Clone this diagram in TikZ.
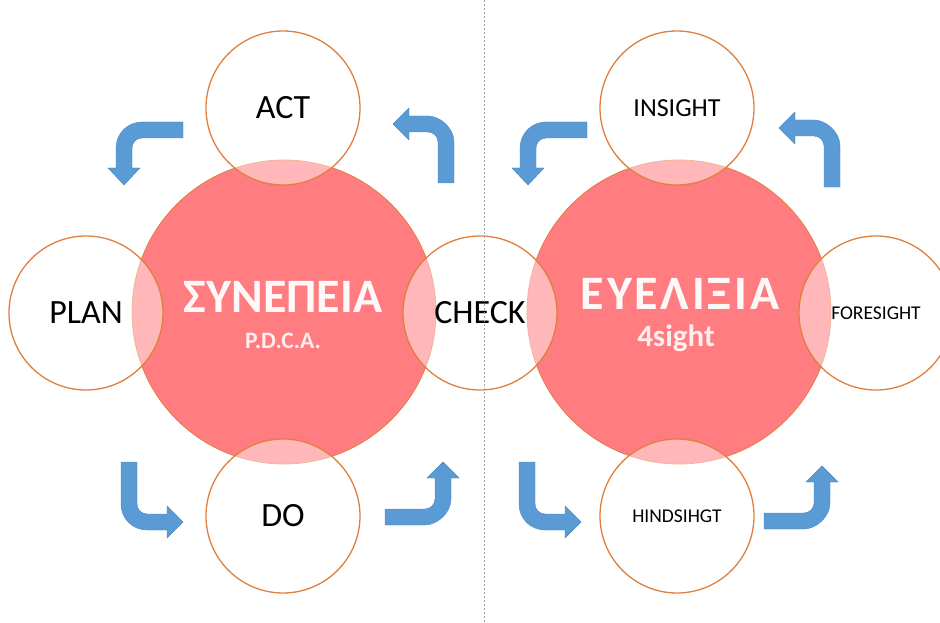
\documentclass[tikz,border=0pt]{standalone}
\usepackage{fontspec}
\setmainfont{Carlito}
\definecolor{pdred}{HTML}{FF7C80}
\definecolor{ringor}{HTML}{E0803F}
\definecolor{arrblue}{HTML}{5B9BD5}
\definecolor{arredge}{HTML}{4A86C5}
\definecolor{divgray}{HTML}{A0A0A0}
\definecolor{titlew}{HTML}{FFF8F8}
\definecolor{subpink}{HTML}{FFEEEE}
\begin{document}
\begin{tikzpicture}[x=1pt,y=-1pt,
  redc/.style={circle, minimum size=304pt, inner sep=0pt, fill=pdred, draw=ringor, line width=0.8pt},
  ringc/.style={circle, minimum size=154pt, inner sep=0pt, draw=ringor, line width=1.3pt,
                fill=white, fill opacity=0.45, text opacity=1, draw opacity=1},
  biglbl/.style={font=\fontsize{34}{40}\selectfont},
  smalllbl/.style={font=\fontsize{19.5}{22}\selectfont},
  titlelbl/.style={text=titlew, font=\fontsize{48}{50}\selectfont\bfseries, anchor=base},
  sublbl/.style={text=subpink, font=\bfseries, anchor=base},
  arrowsh/.style={fill=arrblue, draw=arredge, line width=0.4pt},
  bentTL/.pic={\path[arrowsh] (183,122) -- (142,122) .. controls (127.6,122) and (116,133.6) .. (116,148)
      -- (116,168) -- (108,168) -- (124,185) -- (140,168) -- (132,168) -- (132,148)
      .. controls (132,142.5) and (136.5,138) .. (142,138) -- (183,138) -- cycle;},
  bentTR/.pic={\path[arrowsh] (438,183) -- (454,183) -- (454,142) .. controls (454,127.6) and (439.6,116) .. (428,116)
      -- (409,116) -- (409,108) -- (393,124) -- (409,140) -- (409,132) -- (428,132)
      .. controls (433.5,132) and (438,136.5) .. (438,142) -- cycle;},
  bentBL/.pic={\path[arrowsh] (121,462) -- (137,462) -- (137,504) .. controls (137,509.5) and (141.5,514) .. (147,514)
      -- (167,514) -- (167,506) -- (183,522) -- (167,538) -- (167,530) -- (147,530)
      .. controls (132.4,530) and (121,518.4) .. (121,504) -- cycle;},
  bentBR/.pic={\path[arrowsh] (385,509) -- (425,509) .. controls (430.5,509) and (435,504.5) .. (435,499)
      -- (435,478) -- (427,478) -- (443,462) -- (459,478) -- (451,478) -- (451,499)
      .. controls (451,513.4) and (436.6,525) .. (425,525) -- (385,525) -- cycle;}
]
\clip (0,0) rectangle (940,623);
\fill[white] (0,0) rectangle (940,623);

% central circles
\node[redc] (lred) at (284,312) {};
\node[redc] (rred) at (679,312) {};

% titles
\node[titlelbl] (t1) at (283,312) {ΣΥΝΕΠΕΙΑ};
\node[sublbl, font=\fontsize{23.5}{26}\selectfont\bfseries] (t1s) at (283,348) {P.D.C.A.};
\node[titlelbl, font=\fontsize{48}{50}\selectfont\bfseries\addfontfeature{LetterSpace=6}] (t2) at (680,309) {ΕΥΕΛΙΞΙΑ};
\node[sublbl, font=\fontsize{31}{34}\selectfont\bfseries] (t2s) at (676,346) {4sight};

% satellite circles
\node[ringc, biglbl] (act) at (283,108) {ACT};
\node[ringc, biglbl] (plan) at (86,313) {PLAN};
\node[ringc, biglbl] (check) at (480,313) {CHECK};
\node[ringc, biglbl] (do) at (283,516) {DO};
\node[ringc, font=\fontsize{26}{28}\selectfont] (insight) at (677,108) {INSIGHT};
\node[ringc, smalllbl] (foresight) at (876,313) {FORESIGHT};
\node[ringc, smalllbl] (hindsight) at (677,516) {HINDSIHGT};

% bent arrows
\pic at (0,0) {bentTL};
\pic at (0,0) {bentTR};
\pic at (0,0) {bentBL};
\pic at (0,0) {bentBR};
\pic at (404,0) {bentTL};
\pic at (386,4) {bentTR};
\pic at (398,0) {bentBL};
\pic at (379,4) {bentBR};

% divider
\coordinate (divtop) at (484,0);
\coordinate (divbot) at (484,623);
\draw[divgray, line width=0.9pt, dash pattern=on 2pt off 2pt] (divtop) -- (divbot);
\end{tikzpicture}
\end{document}
